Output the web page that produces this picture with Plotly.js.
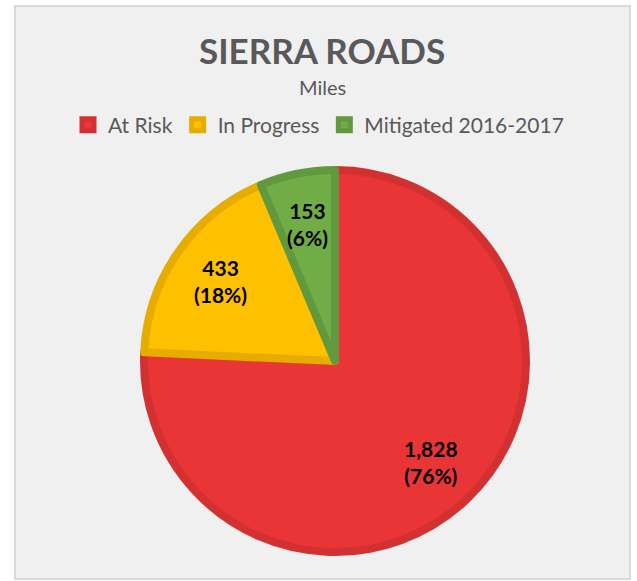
<!DOCTYPE html>
<html><head><meta charset="utf-8">
<script src="https://cdn.plot.ly/plotly-3.0.1.min.js"></script>
<style>body{margin:0;background:#fff}#c{width:637px;height:581px}</style>
</head><body><div id="c"></div>
<script>
const labels = ['At Risk', 'In Progress', 'Mitigated 2016-2017'];
const values = [1828, 433, 153];
const fillColors = ['#e93535', '#ffc000', '#70ad47'];
const lineColors = ['#d33131', '#e6ad00', '#63993e'];
const titleText = 'SIERRA ROADS';
const subtitleText = 'Miles';

const W = 637, H = 581;
const cx = 335, cy = 361, r = 191;
const labelRadiusFrac = 0.73;

const total = values.reduce((a, b) => a + b, 0);
const fmt = v => v.toLocaleString('en-US');

// data labels placed at each slice's mid-angle (clockwise from 12 o'clock)
const labelAnnots = [];
let cum = 0;
values.forEach(v => {
  const mid = (cum + v / 2) / total * 2 * Math.PI;
  cum += v;
  const px = cx + Math.sin(mid) * r * labelRadiusFrac;
  const py = cy - Math.cos(mid) * r * labelRadiusFrac;
  labelAnnots.push({
    text: '<b>' + fmt(v) + '<br>(' + Math.round(v / total * 100) + '%)</b>',
    xref: 'paper', yref: 'paper', x: px / W, y: 1 - py / H, xanchor: 'center', yanchor: 'middle',
    showarrow: false, font: {family: 'Lato, sans-serif', size: 21, color: '#000'}
  });
});

const trace = {
  type: 'pie',
  labels: labels,
  values: values,
  sort: false,
  direction: 'clockwise',
  rotation: 0,
  marker: {colors: fillColors, line: {color: lineColors, width: 8}},
  textinfo: 'none',
  hoverinfo: 'none',
  domain: {x: [(cx - r) / W, (cx + r) / W], y: [1 - (cy + r) / H, 1 - (cy - r) / H]}
};

const layout = {
  width: W, height: H,
  margin: {l: 0, r: 0, t: 0, b: 0},
  paper_bgcolor: '#ffffff',
  showlegend: true,
  legend: {orientation: 'h', x: 0.5, xanchor: 'center', y: 1 - 125 / H, yanchor: 'middle',
    font: {family: 'Lato, sans-serif', size: 21, color: '#595959'}, bgcolor: 'rgba(0,0,0,0)', itemwidth: 30},
  shapes: [{type: 'rect', xref: 'paper', yref: 'paper', x0: 15 / W, x1: 630 / W, y0: 1 - 579 / H, y1: 1 - 6 / H,
    fillcolor: '#f0f0f0', line: {color: '#d9d9d9', width: 2}, layer: 'below'}],
  annotations: [
    {text: '<b>' + titleText + '</b>', xref: 'paper', yref: 'paper', x: 322 / W, y: 1 - 50 / H, showarrow: false,
      xanchor: 'center', yanchor: 'middle',
      font: {family: 'Lato, sans-serif', size: 35, color: '#595959'}},
    {text: subtitleText, xref: 'paper', yref: 'paper', x: 322 / W, y: 1 - 87 / H, showarrow: false,
      xanchor: 'center', yanchor: 'middle',
      font: {family: 'Lato, sans-serif', size: 20, color: '#595959'}}
  ].concat(labelAnnots)
};
Plotly.newPlot('c', [trace], layout, {displayModeBar: false});
</script></body></html>
